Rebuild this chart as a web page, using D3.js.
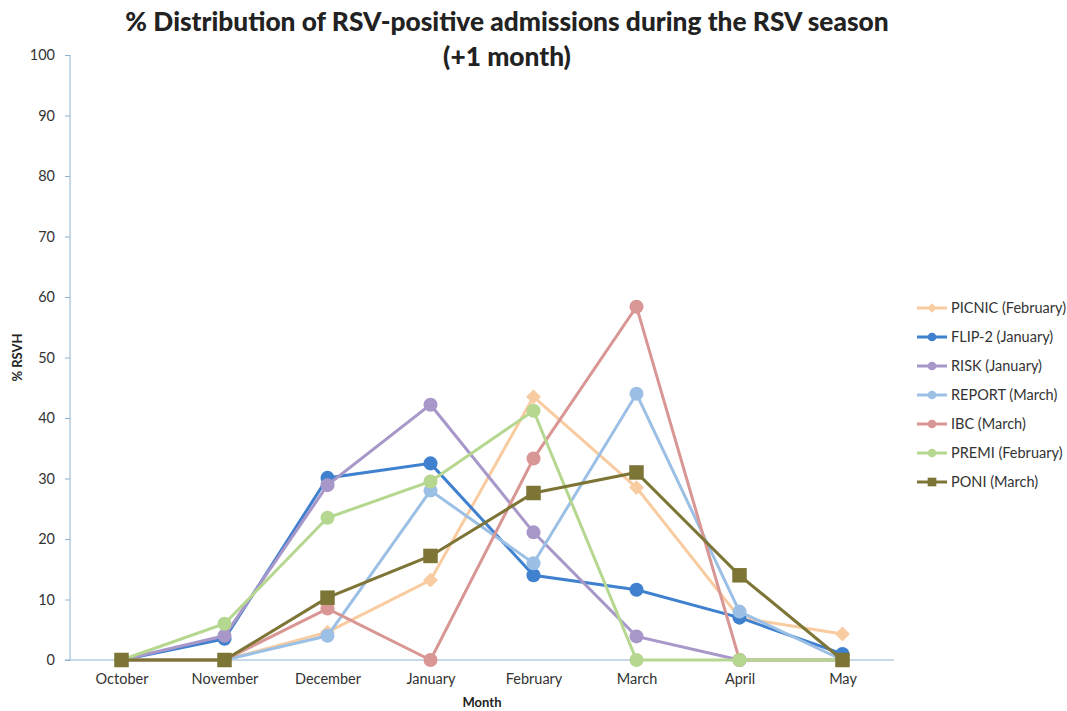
<!DOCTYPE html>
<html>
<head>
<meta charset="utf-8">
<title>RSV season distribution</title>
<script src="https://d3js.org/d3.v7.min.js"></script>
<style>
  body { margin: 0; background: #fff; }
  svg text { font-family: Lato, "Open Sans", sans-serif; fill: #222; }
  .title { font-size: 26.3px; font-weight: 900; }
  .tick text { font-size: 14.5px; fill: #333; }
  .axis path, .axis line { stroke: #8fb3cf; }
  .alabel { font-size: 13px; font-weight: bold; }
  .legend text { font-size: 14.5px; fill: #333; }
</style>
</head>
<body>
<svg id="chart" width="1067" height="711"></svg>
<script>
var months = ["October", "November", "December", "January", "February", "March", "April", "May"];
var yTicks = [0, 10, 20, 30, 40, 50, 60, 70, 80, 90, 100];

var picnic = [0, 0, 4.6, 13.2, 43.5, 28.5, 7, 4.3];
var flip2  = [0, 3.5, 30.1, 32.5, 14, 11.6, 7, 1];
var risk   = [0, 4, 28.9, 42.2, 21.1, 3.9, 0, 0];
var report = [0, 0, 4, 28, 16, 44, 8, 0];
var ibc    = [0, 0, 8.5, 0, 33.3, 58.4, 0, 0];
var premi  = [0, 6, 23.5, 29.5, 41.2, 0, 0, 0];
var poni   = [0, 0, 10.3, 17.2, 27.6, 31, 14, 0];

var seriesNames  = ["PICNIC (February)", "FLIP-2  (January)", "RISK (January)", "REPORT (March)", "IBC (March)", "PREMI (February)", "PONI (March)"];
var seriesValues = [picnic, flip2, risk, report, ibc, premi, poni];
var seriesColors = ["#f9cba0", "#3f80cf", "#a897c9", "#9cc0e5", "#d89694", "#b5d78f", "#7d7536"];
var seriesShapes = ["diamond", "circle", "circle", "circle", "circle", "circle", "square"];

var svg = d3.select("#chart");
var margin = {left: 70, right: 173, top: 55, bottom: 51};
var width = 1067 - margin.left - margin.right,
    height = 711 - margin.top - margin.bottom;

var g = svg.append("g").attr("transform", "translate(" + margin.left + "," + margin.top + ")");

var x = d3.scalePoint().domain(months).range([0, width]).padding(0.5);
var y = d3.scaleLinear().domain([0, 100]).range([height, 0]);

// title
svg.append("text").attr("class", "title").attr("x", 507).attr("y", 31)
  .attr("text-anchor", "middle").text("% Distribution of RSV-positive admissions during the RSV season");
svg.append("text").attr("class", "title").attr("x", 507).attr("y", 66)
  .attr("text-anchor", "middle").text("(+1 month)");

// axes
var yAxis = g.append("g").attr("class", "axis")
  .call(d3.axisLeft(y).tickValues(yTicks).tickSize(5).tickPadding(10));
yAxis.select(".domain").attr("d", "M0," + height + "V0");

var xAxis = g.append("g").attr("class", "axis")
  .attr("transform", "translate(0," + height + ")")
  .call(d3.axisBottom(x).tickSize(0).tickPadding(14));
xAxis.select(".domain").attr("d", "M-5,0H" + width);

g.append("text").attr("class", "alabel").attr("x", width / 2).attr("y", height + 47)
  .attr("text-anchor", "middle").text("Month");
g.append("text").attr("class", "alabel")
  .attr("transform", "translate(-48," + (height / 2) + ") rotate(-90)")
  .attr("text-anchor", "middle").text("% RSVH");

var line = d3.line().x(function(d, i) { return x(months[i]); }).y(function(d) { return y(d); });

// diamond = square turned 45 degrees, like the spreadsheet marker
function marker(sel, shape, size) {
  var t = shape == "circle" ? d3.symbolCircle : d3.symbolSquare;
  sel.attr("d", d3.symbol().type(t).size(size)());
  return shape == "diamond" ? " rotate(45)" : "";
}

seriesValues.forEach(function(vals, k) {
  var s = g.append("g");
  s.append("path").datum(vals).attr("fill", "none")
    .attr("stroke", seriesColors[k]).attr("stroke-width", 3).attr("d", line);
  var pts = s.selectAll(".pt").data(vals).enter().append("path").attr("fill", seriesColors[k]);
  var rot = marker(pts, seriesShapes[k], seriesShapes[k] == "circle" ? 155 : seriesShapes[k] == "square" ? 210 : 110);
  pts.attr("transform", function(d, i) { return "translate(" + x(months[i]) + "," + y(d) + ")" + rot; });
});

// legend
var legend = svg.append("g").attr("class", "legend").attr("transform", "translate(917,308)");
seriesNames.forEach(function(name, k) {
  var row = legend.append("g").attr("transform", "translate(0," + (k * 29) + ")");
  row.append("line").attr("x1", 0).attr("x2", 30).attr("y1", 0).attr("y2", 0)
    .attr("stroke", seriesColors[k]).attr("stroke-width", 3);
  var m = row.append("path").attr("fill", seriesColors[k]);
  var rot = marker(m, seriesShapes[k], seriesShapes[k] == "circle" ? 60 : seriesShapes[k] == "square" ? 75 : 45);
  m.attr("transform", "translate(15,0)" + rot);
  row.append("text").attr("x", 34).attr("y", 5).text(name);
});
</script>
</body>
</html>
